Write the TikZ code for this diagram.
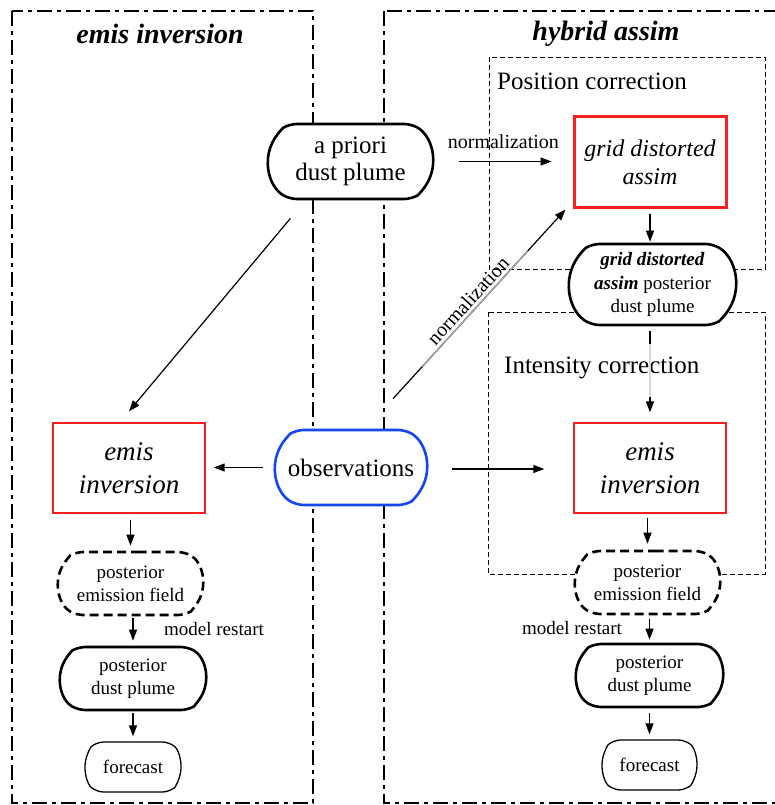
\documentclass[tikz,border=0pt]{standalone}
\usepackage{fontspec}
\setmainfont{Liberation Serif}
\usetikzlibrary{shapes.misc,arrows.meta,calc}
\newcommand\fsz[2]{\fontsize{#1}{#2}\selectfont}
\definecolor{obsblue}{RGB}{20,70,245}
\definecolor{boxred}{RGB}{250,30,30}
\begin{document}
\begin{tikzpicture}[x=1pt,y=-1pt,
  panel/.style={draw, line width=2pt, dash pattern=on 15pt off 5pt on 4pt off 5pt},
  subbox/.style={draw, line width=0.8pt, dash pattern=on 5pt off 3pt},
  title/.style={font=\fsz{28}{32}\bfseries\itshape},
  stad/.style={rounded rectangle, rounded rectangle arc length=120, rounded corners=7pt, draw, line width=2.6pt, fill=white, inner sep=0pt, align=center},
  redbox/.style={rectangle, draw=boxred, fill=white, inner sep=0pt, align=center, minimum width=152pt, minimum height=90pt},
  arr/.style={-{Triangle[length=11pt,width=8pt]}, line width=1.2pt},
  lbl/.style={font=\fsz{19}{23}, inner sep=0pt},
]
\useasboundingbox (0,0) rectangle (774,805);
% panels
\draw[panel] (12,11) rectangle (313,803);
\draw[panel] (384,11) rectangle (790,803);
\node[title] (t1) at (160,34) {emis inversion};
\node[title] (t2) at (606,34) {hybrid assim};
% sub boxes
\draw[subbox] (489,57) rectangle (765,269);
\draw[subbox] (488,312) rectangle (765,574);
\node[anchor=west, font=\fsz{25}{28}, inner sep=0pt] (pc) at (497,81) {Position correction};
\node[anchor=west, font=\fsz{25}{28}, inner sep=0pt] (ic) at (504,368) {Intensity correction};
% nodes
\node[stad, minimum width=165pt, minimum height=75pt, font=\fsz{25}{27}] (apriori) at (350.5,161.5) {a priori\\dust plume};
\node[redbox, line width=3pt, font=\fsz{24}{28}\itshape] (gridred) at (650,162) {grid distorted\\assim};
\node[stad, minimum width=167pt, minimum height=81pt, font=\fsz{19}{23.5}] (gdpost) at (652.5,284.5) {\textbf{\textit{grid distorted}}\\\textbf{\textit{assim}} posterior\\dust plume};
\node[redbox, line width=1.4pt, font=\fsz{27}{33}\itshape] (lemis) at (129,468) {emis\\inversion};
\node[redbox, line width=1.4pt, font=\fsz{27}{33}\itshape] (remis) at (650,468) {emis\\inversion};
\node[stad, draw=obsblue, minimum width=152pt, minimum height=75pt, font=\fsz{25}{28}] (obs) at (351,467.5) {observations};
\node[stad, dash pattern=on 9pt off 5pt, minimum width=145pt, minimum height=63pt, font=\fsz{19}{23}] (lpef) at (130.5,583.5) {posterior\\emission field};
\node[stad, dash pattern=on 9pt off 5pt, minimum width=145pt, minimum height=63pt, font=\fsz{19}{23}] (rpef) at (647.5,582.5) {posterior\\emission field};
\node[stad, minimum width=146pt, minimum height=63pt, font=\fsz{19}{23}] (lpdp) at (133,678.5) {posterior\\dust plume};
\node[stad, minimum width=147pt, minimum height=63pt, font=\fsz{19}{23}] (rpdp) at (649.5,675.5) {posterior\\dust plume};
\node[stad, rounded rectangle arc length=100, line width=1.3pt, minimum width=96pt, minimum height=50pt, font=\fsz{19}{23}] (lfc) at (133,767) {forecast};
\node[stad, rounded rectangle arc length=100, line width=1.3pt, minimum width=95pt, minimum height=50pt, font=\fsz{19}{23}] (rfc) at (649.5,765) {forecast};
\node[lbl] (mrl) at (214,629) {model restart};
\node[lbl] (mrr) at (572,628) {model restart};
% arrows
\draw[arr, shorten <=25pt, shorten >=21pt] (apriori.east) -- (gridred.west |- apriori.east)
  node[midway, above=12pt, font=\fsz{20}{22}, inner sep=0pt] (nl1) {normalization};
\draw[arr, shorten <=5pt, shorten >=1pt] (gridred.south) -- (gridred.south |- gdpost.north);
\draw[arr, shorten <=5pt, shorten >=10pt] (gdpost.south -| remis.north) -- (remis.north);
\draw[gray!30, line width=1.3pt] ($(remis.north)+(0,-78)$) -- ($(remis.north)+(0,-25)$);
\draw[arr, shorten <=11pt, shorten >=8pt] (obs.west) -- (lemis.east |- obs.west);
\draw[arr, shorten <=24pt, shorten >=29pt] ($(obs.east)+(0,1.5)$) -- ($(remis.west)+(0,1)$);
\draw[arr] ($(apriori.south)+(-60,18)$) -- ($(lemis.north)+(0,-11)$);
\coordinate (d1) at ($(obs.north)+(42,-30)$);
\coordinate (d2) at ($(gridred.south west)+(-7,1)$);
\draw[arr] (d1) -- (d2) node[pos=0.48, sloped, above=3pt, font=\fsz{20}{22}, inner sep=0pt] (nl2) {normalization};
\draw[gray!70, line width=1.3pt] ($(d1)!0.17!(d2)$) -- ($(d1)!0.78!(d2)$);
\draw[arr, shorten <=6pt, shorten >=5pt] (lemis.south -| lpef.north) -- (lpef.north);
\draw[arr, shorten <=2pt, shorten >=5pt] (lpef.south -| lpdp.north) -- (lpdp.north);
\draw[arr, shorten <=2pt, shorten >=5pt] (lpdp.south) -- (lfc.north);
\draw[arr, shorten <=4pt, shorten >=6pt] (remis.south -| rpef.north) -- (rpef.north);
\draw[arr, shorten <=4pt, shorten >=3pt] (rpef.south -| rpdp.north) -- (rpdp.north);
\draw[arr, shorten <=5pt, shorten >=5pt] (rpdp.south) -- (rfc.north);
\end{tikzpicture}
\end{document}
